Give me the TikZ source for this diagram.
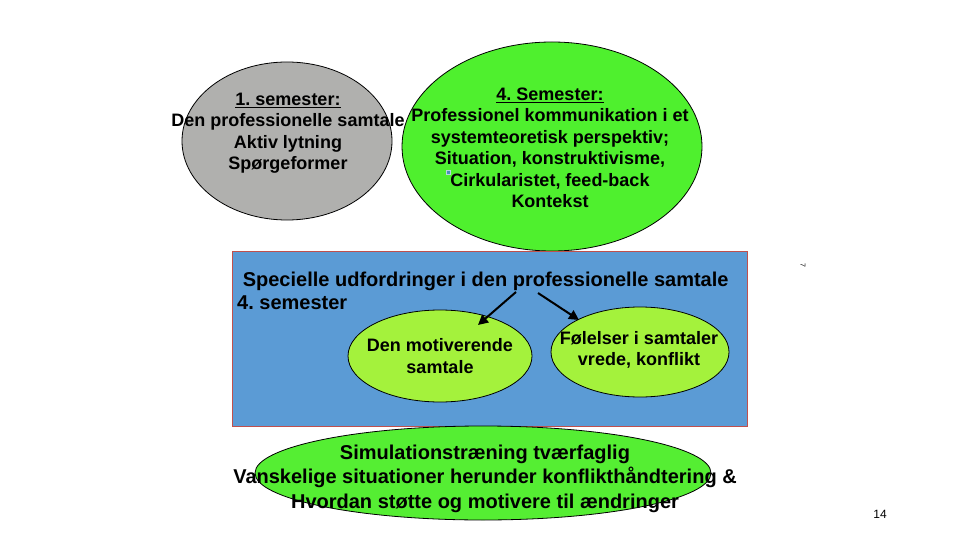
\documentclass[tikz,border=0pt]{standalone}
\usepackage{fontspec}
\setmainfont{Liberation Sans}
\usetikzlibrary{shapes.geometric,arrows.meta}
\definecolor{grayfill}{HTML}{B0B0AE}
\definecolor{greentop}{HTML}{4FF02E}
\definecolor{boxblue}{HTML}{5B9BD5}
\definecolor{boxedge}{HTML}{C0504D}
\definecolor{limefill}{HTML}{A4F23C}
\definecolor{greenbot}{HTML}{55EE33}
\definecolor{bulcol}{HTML}{4A8FB8}
\begin{document}
\frenchspacing
\begin{tikzpicture}[x=1pt,y=-1pt,
  ell/.style={ellipse, draw=black, line width=0.8pt, inner sep=0pt},
  lbl/.style={align=center, inner sep=0pt, font=\bfseries\fontsize{18}{21.5}\selectfont},
  arr/.style={line width=2pt, -{Triangle[length=10pt,width=10pt]}}]
\useasboundingbox (0,0) rectangle (960,540);
% ellipses and box
\node[ell, fill=grayfill, minimum width=210pt, minimum height=158pt] (sem1) at (287,141) {};
\node[ell, fill=greentop, minimum width=300pt, minimum height=209pt] (sem4) at (552,146.5) {};
\node[rectangle, draw=boxedge, line width=1pt, fill=boxblue, minimum width=515pt, minimum height=175pt, inner sep=0pt] (box) at (489.5,338.5) {};
\node[ell, fill=limefill, minimum width=184pt, minimum height=92pt] (mot) at (440,356) {};
\node[ell, fill=limefill, minimum width=178pt, minimum height=90pt] (fol) at (640,352) {};
\node[ell, fill=greenbot, minimum width=456pt, minimum height=94pt] (sim) at (483,473) {};
% texts
\node[lbl] (t1) at (288,133.4) {\underline{1. semester:}\\Den professionelle samtale\\Aktiv lytning\\Spørgeformer};
\node[lbl] (t4) at (550,148) {\underline{4. Semester:}\\Professionel kommunikation i et\\systemteoretisk perspektiv;\\Situation, konstruktivisme,\\Cirkularistet, feed-back\\Kontekst};
\node[draw=white!60!bulcol, fill=bulcol, line width=0.4pt, minimum size=4pt, inner sep=0pt] (bul) at (448,172) {};
\node[align=left, inner sep=0pt, anchor=north west, font=\bfseries\fontsize{20}{23}\selectfont, text=black] (title) at (237,272) {\hspace*{0.28em}Specielle udfordringer i den professionelle samtale\\4. semester};
\node[lbl] (tmot) at (440,356) {Den motiverende\\samtale};
\node[lbl] (tfol) at (639,350) {Følelser i samtaler\\vrede, konflikt};
\node[align=center, inner sep=0pt, font=\bfseries\fontsize{20}{24.5}\selectfont] (tsim) at (485,478.5) {Simulationstræning tværfaglig\\Vanskelige situationer herunder konflikthåndtering \&\\Hvordan støtte og motivere til ændringer};
% arrows
\coordinate (a1s) at (516,292);
\coordinate (a1e) at (478,325);
\coordinate (a2s) at (538,293);
\coordinate (a2e) at (579,320);
\draw[arr] (a1s) -- (a1e);
\draw[arr] (a2s) -- (a2e);
% page marks
\node[rotate=-90, inner sep=0pt, font=\fontsize{7}{8}\selectfont] (p7) at (803,265) {7};
\node[inner sep=0pt, font=\fontsize{12}{14}\selectfont] (pg) at (880,514) {14};
\end{tikzpicture}
\end{document}
